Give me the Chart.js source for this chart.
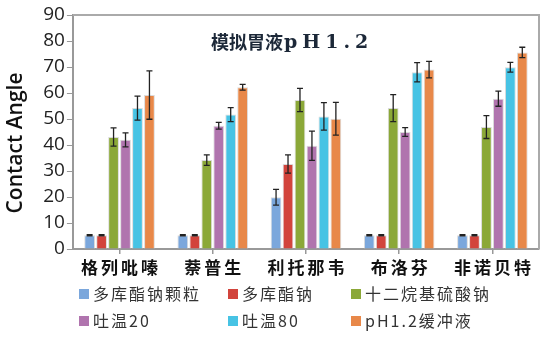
<!DOCTYPE html>
<html><head><meta charset="utf-8">
<script src="https://cdn.jsdelivr.net/npm/chart.js@4"></script>
<style>html,body{margin:0;padding:0;background:#fff}#w{width:547px;height:357px;position:relative}</style>
</head><body><div id="w"><canvas id="c"></canvas></div>
<script>
const categories = ['格列吡嗪', '萘普生', '利托那韦', '布洛芬', '非诺贝特'];
const seriesNames = ['多库酯钠颗粒', '多库酯钠', '十二烷基硫酸钠', '吐温20', '吐温80', 'pH1.2缓冲液'];
const seriesColors = ['#7ba7dc', '#d2443c', '#8ba838', '#b074ae', '#47c3e4', '#e88849'];
const docusateGranule = [5.3, 5.3, 19.9, 5.3, 5.3];
const docusateGranuleErr = [0.2, 0.2, 3.0, 0.2, 0.2];
const docusate = [5.3, 5.3, 32.7, 5.3, 5.3];
const docusateErr = [0.2, 0.2, 3.5, 0.2, 0.2];
const sls = [43.1, 34.2, 57.3, 54.2, 46.9];
const slsErr = [3.5, 2.0, 4.5, 5.2, 4.4];
const tween20 = [42.0, 47.4, 39.7, 45.0, 57.8];
const tween20Err = [2.7, 1.3, 5.6, 1.7, 2.9];
const tween80 = [54.2, 51.7, 51.0, 68.0, 69.9];
const tween80Err = [4.6, 2.7, 5.3, 3.7, 1.9];
const buffer = [59.2, 62.2, 50.1, 69.0, 75.6];
const bufferErr = [9.3, 1.1, 6.3, 3.2, 2.0];
const yTicks = [0, 10, 20, 30, 40, 50, 60, 70, 80, 90];
const chartTitle = ['模拟胃液', 'pH1.2'];
const yTitle = 'Contact Angle';

const values = [docusateGranule, docusate, sls, tween20, tween80, buffer];
const errors = [docusateGranuleErr, docusateErr, slsErr, tween20Err, tween80Err, bufferErr];

const datasets = seriesNames.map((n, i) => ({
  label: n, data: values[i], err: errors[i],
  backgroundColor: seriesColors[i], borderColor: 'rgba(215,215,215,0.9)', borderWidth: 1,
  categoryPercentage: 0.77, barPercentage: 0.9
}));

const overlay = {
  id: 'overlay',
  afterDatasetsDraw(chart) {
    const ctx = chart.ctx, y = chart.scales.y, x = chart.scales.x, a = chart.chartArea;
    ctx.save();
    // error bars
    ctx.strokeStyle = '#222'; ctx.lineWidth = 1.3;
    chart.data.datasets.forEach((ds, di) => {
      const meta = chart.getDatasetMeta(di);
      meta.data.forEach((bar, j) => {
        const v = ds.data[j], e = ds.err[j];
        const t = y.getPixelForValue(v + e), b = y.getPixelForValue(v - e);
        ctx.beginPath();
        ctx.moveTo(bar.x, t); ctx.lineTo(bar.x, b);
        ctx.moveTo(bar.x - 3, t); ctx.lineTo(bar.x + 3, t);
        ctx.moveTo(bar.x - 3, b); ctx.lineTo(bar.x + 3, b);
        ctx.stroke();
      });
    });
    // frame top/right
    ctx.strokeStyle = '#aaa'; ctx.lineWidth = 2;
    ctx.beginPath();
    ctx.moveTo(a.left, a.top); ctx.lineTo(a.right, a.top); ctx.lineTo(a.right, a.bottom);
    ctx.stroke();
    // y title
    ctx.save();
    ctx.translate(16, 143);
    ctx.rotate(-Math.PI / 2);
    ctx.fillStyle = '#111'; ctx.textAlign = 'center'; ctx.textBaseline = 'middle';
    ctx.font = '600 21px "Open Sans"';
    ctx.fillText(yTitle, 0, 0);
    ctx.restore();
    // title
    ctx.fillStyle = '#1c2838'; ctx.textBaseline = 'middle'; ctx.textAlign = 'left';
    ctx.font = 'bold 18px "Noto Sans CJK SC"';
    ctx.letterSpacing = '0px';
    ctx.fillText(chartTitle[0], 211, 42);
    const w0 = ctx.measureText(chartTitle[0]).width;
    ctx.font = 'bold 19px "DejaVu Serif"';
    ctx.letterSpacing = '5px';
    ctx.fillText(chartTitle[1], 211 + w0 + 1, 43);
    // x labels
    ctx.fillStyle = '#111';
    ctx.font = 'bold 17px "Noto Sans CJK SC"';
    ctx.letterSpacing = '3px';
    ctx.textAlign = 'center';
    categories.forEach((c, i) => {
      ctx.fillText(c, x.getPixelForValue(i) + 1.5, 268);
    });
    // legend
    ctx.font = '16px "Noto Sans CJK SC"';
    ctx.letterSpacing = '2px';
    ctx.textAlign = 'left';
    const cols = [79, 228, 351], rows = [294, 321];
    chart.data.datasets.forEach((ds, i) => {
      const cx = cols[i % 3], cy = rows[Math.floor(i / 3)];
      ctx.fillStyle = ds.backgroundColor;
      ctx.fillRect(cx, cy - 5, 10, 10);
      ctx.fillStyle = '#333';
      ctx.fillText(ds.label, cx + 14, cy);
    });
    ctx.restore();
  }
};

new Chart(document.getElementById('c'), {
  type: 'bar',
  data: { labels: categories, datasets },
  options: {
    responsive: true, maintainAspectRatio: false, animation: false,
    layout: { padding: { left: 4, top: 15, right: 8, bottom: 103 } },
    plugins: { legend: { display: false }, tooltip: { enabled: false } },
    scales: {
      x: {
        grid: { offset: false, drawOnChartArea: false, drawTicks: true, tickLength: 5, color: '#999', lineWidth: 1.5 },
        border: { color: '#999', width: 2 },
        ticks: { display: false }
      },
      y: {
        min: 0, max: 90,
        afterBuildTicks(s) { s.ticks = yTicks.map(v => ({ value: v })); },
        grid: { drawOnChartArea: false, drawTicks: true, tickLength: 6, color: '#999' },
        border: { color: '#999', width: 2 },
        ticks: { color: '#222', font: { family: 'Open Sans', size: 19 }, padding: 2 },
        title: { display: true, text: yTitle, color: 'rgba(0,0,0,0)', font: { family: 'Open Sans', size: 21, weight: '600' }, padding: { top: 0, bottom: 12 } }
      }
    }
  },
  plugins: [overlay]
});
</script></body></html>
